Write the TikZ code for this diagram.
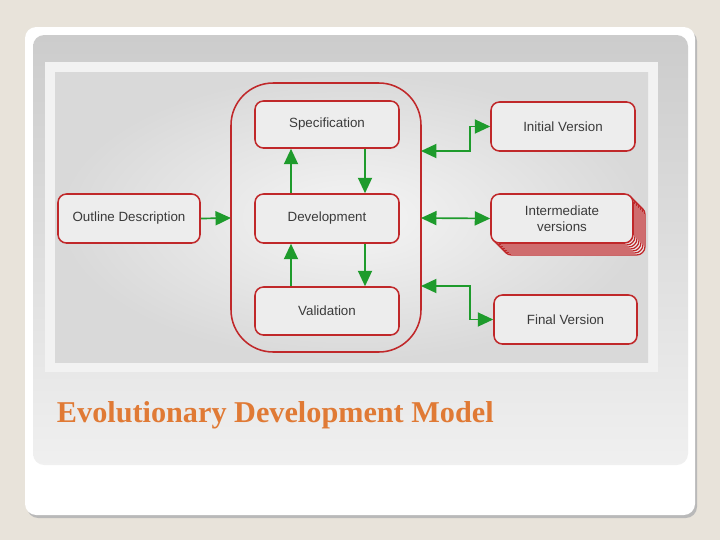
\documentclass[tikz,border=0pt]{standalone}
\usepackage{fontspec}
\setmainfont{Liberation Sans}
\newfontfamily\titlefont{Liberation Serif}
\usetikzlibrary{arrows.meta}
\definecolor{bg}{HTML}{E8E3DA}
\definecolor{boxred}{HTML}{C0282A}
\definecolor{arrgreen}{HTML}{1E9B2C}
\definecolor{ttl}{HTML}{E07A35}
\definecolor{txt}{HTML}{3A3A3A}
\tikzset{
  bx/.style={draw=boxred,line width=1.1pt,rounded corners=6pt,fill=gray!14,text=txt,font=\fontsize{9.5}{11}\selectfont,align=center},
  ga/.style={draw=arrgreen,line width=1.2pt,-{Triangle[length=11pt,width=10pt]}},
  gb/.style={draw=arrgreen,line width=1.2pt,{Triangle[length=11pt,width=10pt]}-{Triangle[length=11pt,width=10pt]}}
}
\begin{document}
\begin{tikzpicture}[x=0.025cm,y=-0.025cm]
\useasboundingbox (0,0) rectangle (720,540);
\fill[bg] (0,0) rectangle (720,540);
\fill[gray!55,rounded corners=8pt] (27,30) rectangle (697,518);
\fill[white,rounded corners=8pt] (25,27) rectangle (695,515);
\shade[top color=gray!40,bottom color=gray!12,rounded corners=8pt] (33,35) rectangle (688,465);
\fill[gray!10] (45,62) rectangle (658,372);
\shade[inner color=gray!8,outer color=gray!30] (55,72) rectangle (648,362);
% container
\draw[boxred,line width=1.1pt,rounded corners=30pt] (231,83) rectangle (421,352);
\coordinate (cL) at (231,218);
\coordinate (cR1) at (421,151);
\coordinate (cR2) at (421,218);
\coordinate (cR3) at (421,286);
% boxes
\node[bx,minimum width=144*0.025cm,minimum height=47*0.025cm] (spec) at (327,124.5) {Specification};
\node[bx,minimum width=144*0.025cm,minimum height=49*0.025cm] (dev) at (327,218.5) {Development};
\node[bx,minimum width=144*0.025cm,minimum height=48*0.025cm] (val) at (327,311) {Validation};
\node[bx,minimum width=142*0.025cm,minimum height=49*0.025cm] (out) at (129,218.5) {Outline Description};
\node[bx,minimum width=144*0.025cm,minimum height=49*0.025cm] (init) at (563,126.5) {Initial Version};
\foreach \d in {12,10,8,6,4,2}{
  \draw[boxred,line width=0.9pt,fill=gray!14,rounded corners=6pt] (491+\d,194+\d) rectangle (633+\d,243+\d);
}
\node[bx,minimum width=142*0.025cm,minimum height=49*0.025cm] (int) at (562,218.5) {Intermediate\\versions};
\node[bx,minimum width=143*0.025cm,minimum height=49*0.025cm] (fin) at (565.5,319.5) {Final Version};
% arrows
\draw[ga] (out.east) -- (cL);
\draw[ga] (spec.south -| 365,0) -- (dev.north -| 365,0);
\draw[ga] (dev.north -| 291,0) -- (spec.south -| 291,0);
\draw[ga] (dev.south -| 365,0) -- (val.north -| 365,0);
\draw[ga] (val.north -| 291,0) -- (dev.south -| 291,0);
\draw[gb] (cR1) -- (470,151) -- (470,126.5) -- (init.west);
\draw[gb] (cR2) -- (int.west);
\draw[gb] (cR3) -- (470,286) -- (470,319.5) -- (fin.west);
\node[anchor=west,text=ttl,font=\titlefont\bfseries\fontsize{21.5}{24}\selectfont] (title) at (52,415) {Evolutionary Development Model};
\end{tikzpicture}
\end{document}
